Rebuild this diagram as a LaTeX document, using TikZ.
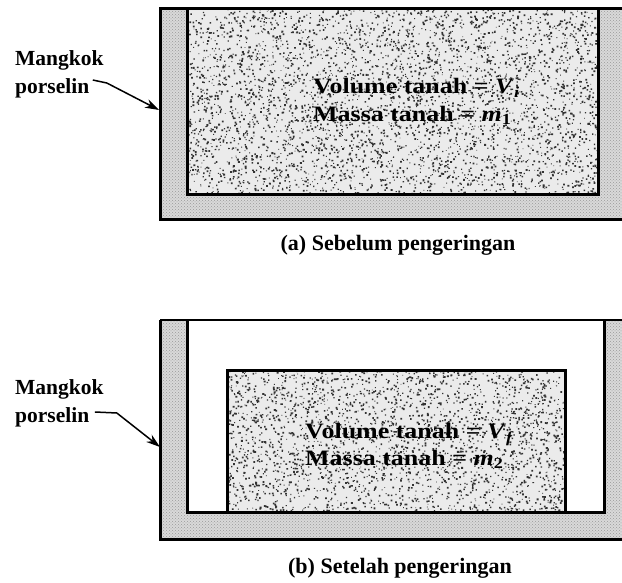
\documentclass[tikz,border=0pt]{standalone}
\usepackage{fontspec}
\setmainfont{Liberation Serif}
\newfontfamily\wideserif[FakeStretch=1.18]{Liberation Serif}
\usetikzlibrary{arrows.meta,calc,patterns}

\tikzset{
  wall/.style={line width=3pt},
  porcelain/.style={fill=gray!30},
  soilbase/.style={fill=gray!16},
  label/.style={font=\fontsize{21.5}{28}\selectfont\bfseries, align=left, inner sep=0pt},
  soiltext/.style={font=\wideserif\fontsize{22}{27.5}\selectfont\bfseries, align=left, inner sep=0pt},
  caption/.style={font=\fontsize{22}{26}\selectfont\bfseries, inner sep=0pt},
  pointer/.style={line width=1.5pt, -{Stealth[length=14pt,width=9pt]}},
}

% speckled soil: light base plus random dark square grains, one path
\newcommand{\soilgrains}[5]{%
  \fill[black!80]
  \foreach \k in {1,...,#5}{%
    \pgfextra{%
      \pgfmathsetmacro\gx{#1+(#3-#1)*rnd}%
      \pgfmathsetmacro\gy{#2+(#4-#2)*rnd}%
      \pgfmathsetmacro\gs{0.8+1.1*rnd}%
    }
    (\gx,\gy) rectangle ++(\gs,\gs)
  };%
}

\begin{document}
\begin{tikzpicture}[x=1pt,y=-1pt]
\pgfmathsetseed{11}
\clip (0,0) rectangle (622,583);
\fill[white] (0,0) rectangle (622,583);

% ---------- (a) before drying ----------
\fill[porcelain] (160,9) rectangle (640,220);
\fill[pattern=crosshatch dots, pattern color=gray!80] (160,9) rectangle (640,220);
\fill[soilbase] (187,9) rectangle (598,195);
\begin{scope}
  \clip (187,9) rectangle (598,195);
  \soilgrains{187}{9}{598}{195}{4200}
\end{scope}
\draw[wall] (187,9) -- (187,195) -- (598,195) -- (598,9);
\draw[wall] (660,9) -- (160,9) -- (160,220) -- (660,220);

\node[soiltext, anchor=west] (txtA) at (313,101.5)
  {Volume tanah = \textit{V}\textsubscript{\textit{i}}\\Massa tanah = \textit{m}\textsubscript{1}};

\node[label, anchor=west] (lblA) at (15,74) {Mangkok\\porselin};
\coordinate (tailA) at ($(lblA.east)+(-11,6)$);
\coordinate (kinkA) at ($(tailA)+(14,3)$);
\coordinate (bowlA) at (159,110);
\draw[pointer] (tailA) -- (kinkA) -- (bowlA);

\node[caption] (capA) at (398,245) {(a) Sebelum pengeringan};

% ---------- (b) after drying ----------
\fill[porcelain] (160,320) rectangle (640,539);
\fill[pattern=crosshatch dots, pattern color=gray!80] (160,320) rectangle (640,539);
\fill[white] (187,320) rectangle (604,512);
\fill[soilbase] (227,370) rectangle (565,512);
\begin{scope}
  \clip (227,370) rectangle (565,512);
  \soilgrains{227}{370}{565}{512}{2700}
\end{scope}
\draw[wall] (227,512) -- (227,370) -- (565,370) -- (565,512);
\draw[wall] (187,320) -- (187,512) -- (604,512) -- (604,320);
\draw[line width=2.2pt] (160,320) -- (660,320);
\draw[wall] (660,539) -- (160,539) -- (160,320);

\node[soiltext, anchor=west] (txtB) at (305,446)
  {Volume tanah = \textit{V}\textsubscript{\textit{f}}\\Massa tanah = \textit{m}\textsubscript{2}};

\node[label, anchor=west] (lblB) at (15,403) {Mangkok\\porselin};
\coordinate (tailB) at ($(lblB.east)+(-9,9)$);
\coordinate (kinkB) at ($(tailB)+(22,1)$);
\coordinate (bowlB) at (160,447);
\draw[pointer] (tailB) -- (kinkB) -- (bowlB);

\node[caption] (capB) at (400,568) {(b) Setelah pengeringan};
\end{tikzpicture}
\end{document}
